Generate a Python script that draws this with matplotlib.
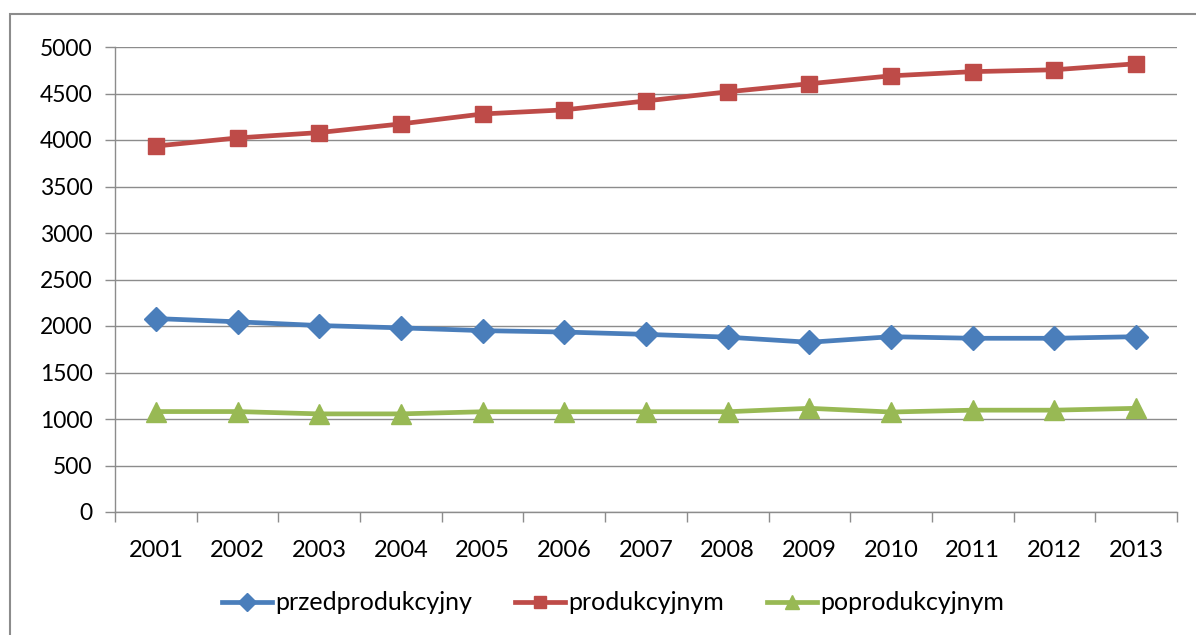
import matplotlib
matplotlib.use("Agg")
import matplotlib.pyplot as plt
from matplotlib.patches import Rectangle

years = ["2001", "2002", "2003", "2004", "2005", "2006", "2007",
         "2008", "2009", "2010", "2011", "2012", "2013"]
przedprodukcyjny = [2080, 2045, 2005, 1980, 1950, 1935, 1910, 1880, 1825, 1885, 1868, 1868, 1885]
produkcyjnym = [3935, 4022, 4080, 4173, 4280, 4324, 4420, 4518, 4605, 4690, 4735, 4755, 4820]
poprodukcyjnym = [1080, 1080, 1055, 1055, 1078, 1078, 1078, 1078, 1115, 1075, 1095, 1095, 1115]
yticks = [0, 500, 1000, 1500, 2000, 2500, 3000, 3500, 4000, 4500, 5000]

plt.rcParams['font.family'] = ['Lato', 'DejaVu Sans']

W, H = 1196, 635
fig = plt.figure(figsize=(W / 100, H / 100), dpi=100)
fig.patch.set_facecolor("white")

# outer chart border (left/top visible, right/bottom beyond image)
fig.patches.append(Rectangle((10 / W, -0.1), 1.2, 1.1 - 14 / H,
                             transform=fig.transFigure, fill=False,
                             edgecolor="#8c8c8c", linewidth=1.5))

ax = fig.add_axes([115 / W, 1 - 512 / H, 1062 / W, 465 / H])
x = list(range(len(years)))

ax.plot(x, przedprodukcyjny, color="#4A7EBB", lw=3.4, marker="D", ms=12.5,
        label="przedprodukcyjny", zorder=3)
ax.plot(x, produkcyjnym, color="#BE4B48", lw=3.4, marker="s", ms=11.5,
        label="produkcyjnym", zorder=3)
ax.plot(x, poprodukcyjnym, color="#98B954", lw=3.4, marker="^", ms=15,
        label="poprodukcyjnym", zorder=3)

ax.set_xlim(-0.5, len(years) - 0.5)
ax.set_ylim(0, 5000)
ax.set_yticks(yticks)
ax.set_yticklabels([str(v) for v in yticks], fontsize=16.5)
ax.set_xticks(x)
ax.set_xticklabels(years, fontsize=17)
ax.set_xticks([i - 0.5 for i in range(len(years) + 1)], minor=True)
ax.tick_params(axis="x", which="major", length=0, pad=20, colors="#000000")
ax.tick_params(axis="x", which="minor", length=7, color="#8c8c8c", width=1)
ax.tick_params(axis="y", length=7, color="#8c8c8c", width=1, pad=9)

ax.grid(axis="y", color="#8c8c8c", linewidth=1)
ax.set_axisbelow(True)
for s in ["top", "right"]:
    ax.spines[s].set_visible(False)
for s in ["left", "bottom"]:
    ax.spines[s].set_color("#8c8c8c")
    ax.spines[s].set_linewidth(1)

leg = fig.legend(loc="center", bbox_to_anchor=(613 / W, 1 - 603 / H), ncol=3,
                 frameon=False, fontsize=18, handlelength=2.0, handletextpad=0.15,
                 columnspacing=1.7, markerscale=0.7)

fig.savefig("out.png", dpi=100)
